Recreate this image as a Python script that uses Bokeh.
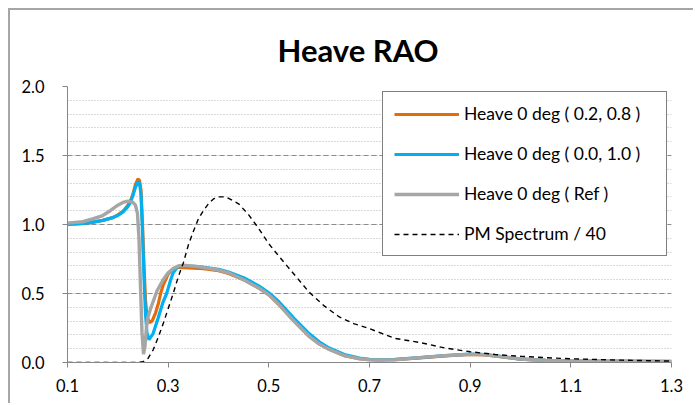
from bokeh.plotting import figure
from bokeh.models import (Range1d, FixedTicker, SingleIntervalTicker,
                          NumeralTickFormatter, Legend, LegendItem)
from bokeh.embed import file_html
from bokeh.resources import INLINE

# ---------------- data ----------------
title_text = "Heave RAO"

freq_a = [0.10, 0.14, 0.17, 0.19, 0.20, 0.21, 0.22, 0.225, 0.23, 0.235, 0.24, 0.243,
          0.246, 0.249, 0.252, 0.255, 0.258, 0.263, 0.268, 0.275, 0.28, 0.285, 0.29,
          0.30, 0.31, 0.32, 0.34, 0.37, 0.40, 0.42, 0.45, 0.48, 0.50, 0.52, 0.55,
          0.58, 0.60, 0.62, 0.65, 0.68, 0.70, 0.72, 0.75, 0.80, 0.85, 0.90, 0.93,
          0.96, 1.00, 1.05, 1.10, 1.20, 1.30]
rao_a = [1.00, 1.01, 1.03, 1.05, 1.07, 1.095, 1.14, 1.17, 1.22, 1.29, 1.33, 1.32,
         1.25, 1.00, 0.70, 0.45, 0.33, 0.29, 0.30, 0.36, 0.42, 0.50, 0.56,
         0.64, 0.68, 0.69, 0.685, 0.68, 0.665, 0.645, 0.60, 0.54, 0.49, 0.42, 0.30,
         0.19, 0.135, 0.095, 0.05, 0.028, 0.02, 0.018, 0.02, 0.033, 0.048, 0.058, 0.055,
         0.042, 0.024, 0.015, 0.011, 0.009, 0.007]

freq_b = [0.10, 0.14, 0.17, 0.19, 0.20, 0.21, 0.22, 0.225, 0.23, 0.235, 0.24, 0.243,
          0.246, 0.249, 0.252, 0.255, 0.258, 0.262, 0.27, 0.28, 0.29, 0.297, 0.305,
          0.31, 0.318, 0.33, 0.36, 0.40, 0.42, 0.45, 0.48, 0.50, 0.52, 0.55,
          0.58, 0.60, 0.62, 0.65, 0.68, 0.70, 0.72, 0.75, 0.80, 0.85, 0.90, 0.93,
          0.96, 1.00, 1.05, 1.10, 1.20, 1.30]
rao_b = [1.00, 1.01, 1.03, 1.05, 1.065, 1.09, 1.13, 1.16, 1.21, 1.27, 1.31, 1.30,
         1.22, 0.95, 0.62, 0.35, 0.21, 0.165, 0.21, 0.32, 0.44, 0.50, 0.60,
         0.65, 0.69, 0.70, 0.695, 0.675, 0.655, 0.615, 0.555, 0.505, 0.44, 0.32,
         0.21, 0.15, 0.105, 0.058, 0.032, 0.023, 0.02, 0.022, 0.035, 0.05, 0.06, 0.058,
         0.045, 0.025, 0.015, 0.012, 0.010, 0.008]

freq_ref = [0.10, 0.13, 0.15, 0.17, 0.185, 0.20, 0.21, 0.22, 0.23, 0.235, 0.239, 0.242,
            0.245, 0.248, 0.251, 0.254, 0.257, 0.26, 0.265, 0.27, 0.278, 0.29, 0.30,
            0.31, 0.32, 0.33, 0.36, 0.40, 0.42, 0.45, 0.48, 0.50, 0.52, 0.55,
            0.58, 0.60, 0.62, 0.65, 0.68, 0.70, 0.72, 0.75, 0.80, 0.85, 0.90, 0.93,
            0.96, 1.00, 1.05, 1.10, 1.20, 1.30]
rao_ref = [1.01, 1.02, 1.04, 1.065, 1.10, 1.14, 1.16, 1.17, 1.16, 1.14, 1.08, 0.90,
           0.55, 0.22, 0.06, 0.12, 0.26, 0.33, 0.39, 0.44, 0.52, 0.60, 0.65,
           0.68, 0.70, 0.705, 0.695, 0.67, 0.65, 0.60, 0.54, 0.49, 0.42, 0.30,
           0.19, 0.135, 0.095, 0.05, 0.027, 0.02, 0.018, 0.02, 0.035, 0.05, 0.06, 0.056,
           0.043, 0.025, 0.015, 0.012, 0.009, 0.007]

freq_pm = [0.10, 0.20, 0.24, 0.25, 0.26, 0.27, 0.28, 0.29, 0.30, 0.31, 0.32, 0.33,
           0.34, 0.35, 0.36, 0.37, 0.38, 0.39, 0.40, 0.41, 0.42, 0.44, 0.46, 0.48,
           0.50, 0.52, 0.55, 0.58, 0.61, 0.64, 0.67, 0.70, 0.75, 0.80, 0.85, 0.90,
           0.95, 1.00, 1.05, 1.10, 1.20, 1.30]
pm_spec = [0.0, 0.0, 0.0, 0.005, 0.03, 0.09, 0.18, 0.28, 0.39, 0.50, 0.62, 0.72,
           0.85, 0.95, 1.04, 1.10, 1.15, 1.185, 1.20, 1.20, 1.19, 1.15, 1.07, 0.97,
           0.86, 0.77, 0.64, 0.51, 0.41, 0.33, 0.28, 0.245, 0.175, 0.145, 0.105, 0.078,
           0.058, 0.045, 0.035, 0.027, 0.017, 0.010]

x_ticks = [0.1, 0.3, 0.5, 0.7, 0.9, 1.1, 1.3]
labels = ["Heave 0 deg ( 0.2, 0.8 )", "Heave 0 deg ( 0.0, 1.0 )",
          "Heave 0 deg ( Ref )", "PM Spectrum / 40"]

FONT = "Lato"
AXIS_C = "#868686"

p = figure(width=685, height=395, output_backend="svg", toolbar_location=None,
           x_range=Range1d(0.1, 1.3), y_range=Range1d(0.0, 2.0),
           min_border_left=57, min_border_right=24, min_border_top=76,
           min_border_bottom=43, background_fill_color="white",
           border_fill_color="white")
p.margin = (8, 0, 0, 8)
p.styles = {"border-top": "2px solid #a6a6a6", "border-left": "2px solid #a6a6a6"}
p.outline_line_color = None

p.title.text = title_text
p.title.align = "left"
p.title.offset = 210
p.title.standoff = 36
p.title.text_font = FONT
p.title.text_font_size = "31px"
p.title.text_font_style = "bold"
p.title.text_color = "black"

# axes
p.xaxis.ticker = FixedTicker(ticks=x_ticks)
p.xaxis.formatter = NumeralTickFormatter(format="0.0")
p.yaxis.ticker = SingleIntervalTicker(interval=0.5, num_minor_ticks=5)
p.yaxis.formatter = NumeralTickFormatter(format="0.0")
for ax in (p.xaxis, p.yaxis):
    ax.axis_line_color = AXIS_C
    ax.major_tick_line_color = AXIS_C
    ax.major_tick_out = 5
    ax.major_tick_in = 0
    ax.minor_tick_line_color = None
    ax.major_label_text_font = FONT
    ax.major_label_text_font_size = "16.5px"
    ax.major_label_text_color = "black"
p.yaxis.major_label_standoff = 18
p.xaxis.major_label_standoff = 11

p.xgrid.grid_line_color = None
p.ygrid.ticker = SingleIntervalTicker(interval=0.5, num_minor_ticks=5)
p.ygrid.grid_line_color = "#8c8c8c"
p.ygrid.grid_line_dash = "5 3"
p.ygrid.grid_line_width = 1
p.ygrid.minor_grid_line_color = "#b4b4b4"
p.ygrid.minor_grid_line_dash = "1 2"
p.ygrid.minor_grid_line_width = 1

r1 = p.line(freq_a, rao_a, line_color="#E46C0A", line_width=3.2)
r2 = p.line(freq_b, rao_b, line_color="#00B0F0", line_width=3.2)
r3 = p.line(freq_ref, rao_ref, line_color="#A6A6A6", line_width=3.4)
r4 = p.line(freq_pm, pm_spec, line_color="black", line_width=1.4, line_dash="5 4")

legend = Legend(items=[LegendItem(label=labels[0], renderers=[r1]),
                       LegendItem(label=labels[1], renderers=[r2]),
                       LegendItem(label=labels[2], renderers=[r3]),
                       LegendItem(label=labels[3], renderers=[r4])],
                location=(315, 106))
legend.label_text_font = FONT
legend.label_text_font_size = "17.5px"
legend.label_text_color = "black"
legend.padding = 11
legend.spacing = 19
legend.label_height = 20
legend.glyph_height = 20
legend.glyph_width = 65
legend.label_standoff = 5
legend.label_width = 191
legend.border_line_color = "black"
legend.border_line_width = 1
legend.background_fill_color = "white"
legend.background_fill_alpha = 1.0
legend.margin = 0
p.add_layout(legend)

open("out.html", "w").write(file_html(p, INLINE))
